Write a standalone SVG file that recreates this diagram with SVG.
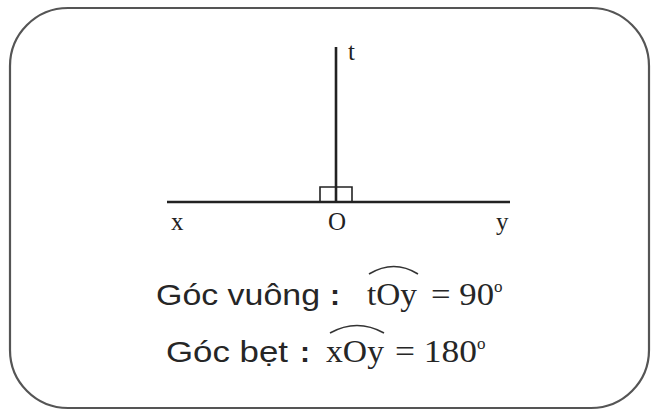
<svg xmlns="http://www.w3.org/2000/svg" width="651" height="411" viewBox="0 0 651 411">
<style>
.frame{fill:none;stroke:#555;stroke-width:2.2}
.ln{stroke:#222;stroke-width:2.6;fill:none}
.box{stroke:#222;stroke-width:1.6;fill:none}
.lbl{font-family:"Liberation Serif","Times New Roman",serif;font-size:25px;fill:#222}
.sans{font-family:"Liberation Sans",Arial,sans-serif;font-size:30px;fill:#262626}
.ser{font-family:"Liberation Serif","Times New Roman",serif;font-size:31px;fill:#262626}
.sup{font-family:"Liberation Serif","Times New Roman",serif;font-size:17px;fill:#262626}
.hat{stroke:#333;stroke-width:1.6;fill:none}
</style>
<rect width="651" height="411" fill="#fff"/>
<rect class="frame" x="10" y="8" width="639" height="400" rx="58" ry="58"/>
<g id="connectors">
<line class="ln" x1="167" y1="202" x2="510" y2="202"/>
<line class="ln" x1="336" y1="47" x2="336" y2="202"/>
<polyline class="box" points="320,202 320,187 352,187 352,202"/>
</g>
<g id="node-x"><text class="lbl" x="171" y="230">x</text></g>
<g id="node-O"><text class="lbl" x="328" y="230">O</text></g>
<g id="node-y"><text class="lbl" x="496" y="230">y</text></g>
<g id="node-t"><text class="lbl" x="348" y="60">t</text></g>
<g id="line1">
<text class="sans" x="156" y="305" textLength="164" lengthAdjust="spacingAndGlyphs">Góc vuông</text>
<text class="sans" x="330" y="305" font-weight="bold">:</text>
<text class="ser" x="367" y="305" textLength="50" lengthAdjust="spacingAndGlyphs">tOy</text>
<path class="hat" d="M369,274 Q394,259 418,274"/>
<text class="ser" x="431" y="305" textLength="63" lengthAdjust="spacingAndGlyphs">= 90</text>
<text class="sup" x="494" y="292">o</text>
</g>
<g id="line2">
<text class="sans" x="166" y="362" textLength="122" lengthAdjust="spacingAndGlyphs">Góc bẹt</text>
<text class="sans" x="300" y="362" font-weight="bold">:</text>
<text class="ser" x="326" y="362" textLength="58" lengthAdjust="spacingAndGlyphs">xOy</text>
<path class="hat" d="M330,333 Q357,318 384,333"/>
<text class="ser" x="395" y="362" textLength="82" lengthAdjust="spacingAndGlyphs">= 180</text>
<text class="sup" x="477" y="349">o</text>
</g>
</svg>
